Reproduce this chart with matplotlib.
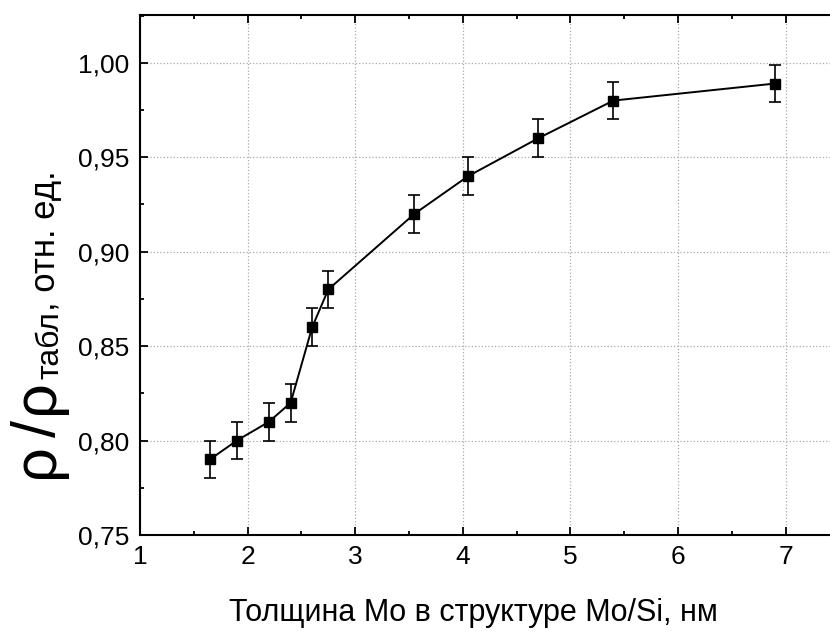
import matplotlib
matplotlib.use("Agg")
import matplotlib.pyplot as plt
from matplotlib.ticker import FuncFormatter, MultipleLocator

plt.rcParams['font.family'] = ['Liberation Sans', 'DejaVu Sans']

W, H = 830, 643

# data
thickness = [1.65, 1.90, 2.20, 2.40, 2.60, 2.75, 3.55, 4.05, 4.70, 5.40, 6.90]
rho_rel = [0.79, 0.80, 0.81, 0.82, 0.86, 0.88, 0.92, 0.94, 0.96, 0.98, 0.989]
rho_err = [0.01, 0.01, 0.01, 0.01, 0.01, 0.01, 0.01, 0.01, 0.01, 0.01, 0.01]

fig = plt.figure(figsize=(W / 100, H / 100), dpi=100)
# right spine falls outside the picture, as in the original
ax = fig.add_axes([140 / W, 108 / H, 700 / W, 520 / H])

ax.errorbar(thickness, rho_rel, yerr=rho_err, color='black', lw=1.4,
            marker='s', ms=6.5, capsize=4, elinewidth=1.2, capthick=1.2, zorder=3)

ax.set_xlim(1, 1 + 700 / 107.6)
ax.set_ylim(0.75, 1.0253)
ax.xaxis.set_major_locator(MultipleLocator(1))
ax.xaxis.set_minor_locator(MultipleLocator(0.5))
ax.yaxis.set_major_locator(MultipleLocator(0.05))
ax.yaxis.set_minor_locator(MultipleLocator(0.025))
ax.yaxis.set_major_formatter(FuncFormatter(lambda v, p: f"{v:.2f}".replace('.', ',')))

ax.tick_params(which='both', direction='in', top=True, right=False, width=1.3)
ax.tick_params(which='major', length=6, labelsize=19)
ax.tick_params(axis='x', which='major', pad=7)
ax.tick_params(axis='y', which='major', pad=8)
ax.tick_params(which='minor', length=3)
for s in ax.spines.values():
    s.set_linewidth(1.5)

ax.grid(True, which='major', linestyle=':', color='#aaaaaa', lw=0.9)
ax.set_axisbelow(True)

fig.text(473 / W, 1 - 613 / H, "Толщина Mo в структуре Mo/Si, нм",
         fontsize=22, ha='center', va='center')

# y label built from pieces: (text, size, baseline x px, gap before px)
pieces = [("ρ", 44, 53, 0), ("/", 44, 55, 6), ("ρ", 44, 53, 6),
          ("табл", 23, 58, 0), (", отн. ед.", 25, 55, 0)]
fig.canvas.draw()
rend = fig.canvas.get_renderer()
y = H - 478  # pixels from the bottom of the figure
for txt, size, bx, gap in pieces:
    y += gap
    t = fig.text(bx / W, y / H, txt, fontsize=size,
                 rotation=90, rotation_mode='anchor', ha='left', va='baseline')
    y = t.get_window_extent(rend).y1

fig.savefig("out.png", dpi=100, facecolor='white')
